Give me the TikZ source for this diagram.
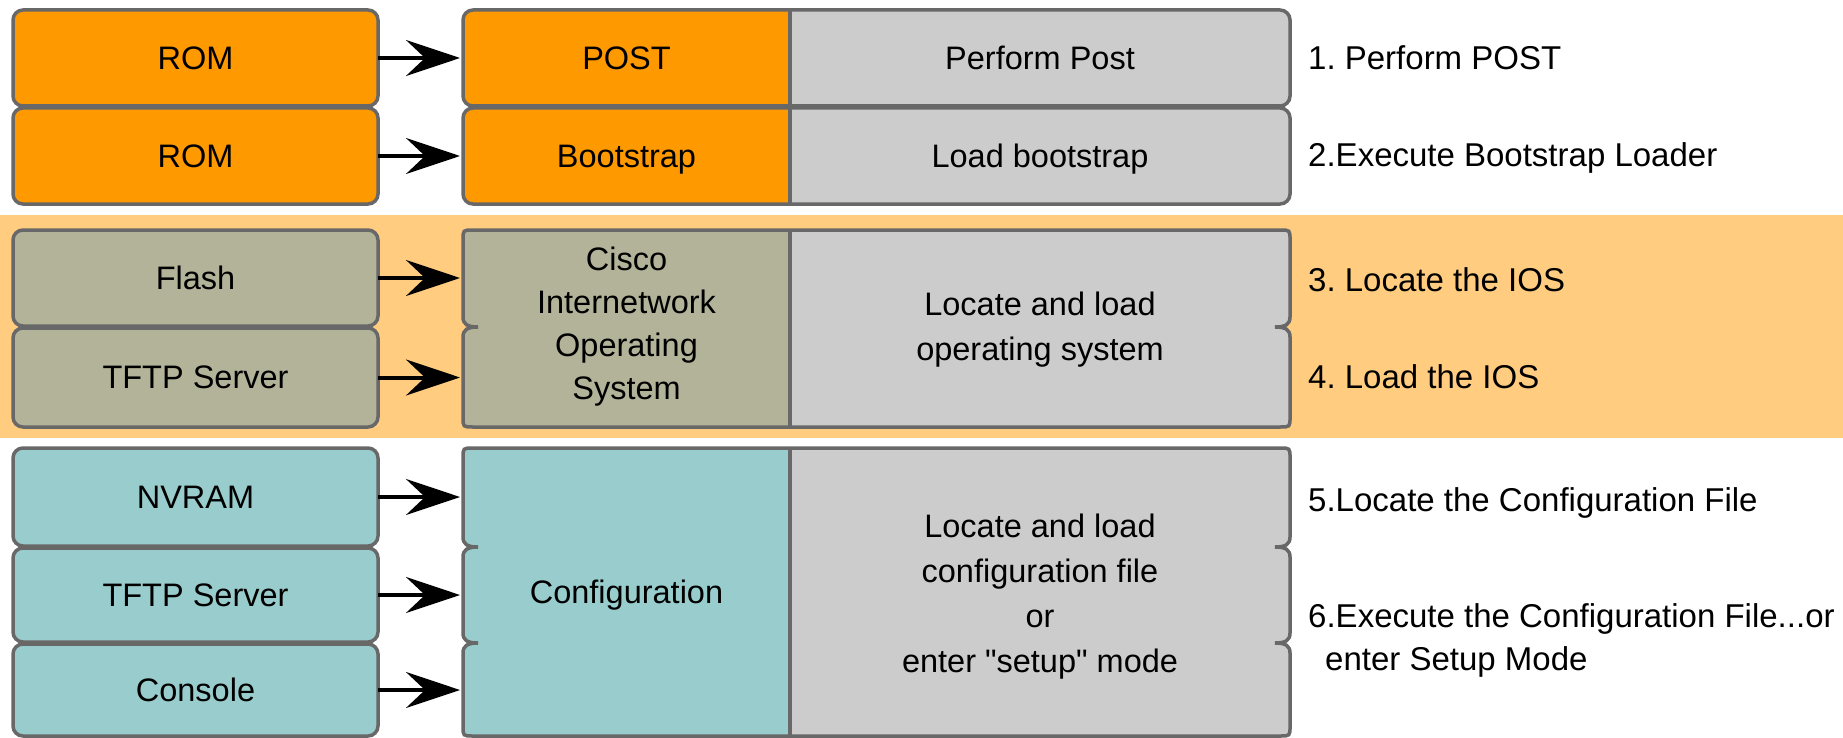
\documentclass[tikz,border=0pt]{standalone}
\usepackage{fontspec}
\setmainfont{Liberation Sans}
\newfontfamily\qfont{Liberation Sans}
\usetikzlibrary{arrows.meta}
\frenchspacing
\definecolor{bandc}{RGB}{255,204,128}
\definecolor{orangec}{RGB}{255,153,0}
\definecolor{grayc}{RGB}{204,204,204}
\definecolor{olivec}{RGB}{179,179,153}
\definecolor{tealc}{RGB}{153,204,204}
\definecolor{edgec}{RGB}{104,104,104}
\newcommand{\boxpath}[5]{\path[#1, rounded corners=10pt] (#2,#3) rectangle (#4,#5);}
\newcommand{\iospath}[1]{\path[#1] (473,230) -- (1280,230) .. controls (1290,230) .. (1290,240) -- (1290,317) .. controls (1290,324) and (1286,327) .. (1275,327) .. controls (1286,327) and (1290,330) .. (1290,337) -- (1290,417) .. controls (1290,427) .. (1280,427) -- (473,427) .. controls (463,427) .. (463,417) -- (463,337) .. controls (463,330) and (467,327) .. (478,327) .. controls (467,327) and (463,324) .. (463,317) -- (463,240) .. controls (463,230) .. (473,230) -- cycle;}
\newcommand{\cfgpath}[1]{\path[#1] (473,448) -- (1280,448) .. controls (1290,448) .. (1290,458) -- (1290,537) .. controls (1290,544) and (1286,547) .. (1275,547) .. controls (1286,547) and (1290,550) .. (1290,557) -- (1290,633) .. controls (1290,640) and (1286,643) .. (1275,643) .. controls (1286,643) and (1290,646) .. (1290,653) -- (1290,726) .. controls (1290,736) .. (1280,736) -- (473,736) .. controls (463,736) .. (463,726) -- (463,653) .. controls (463,646) and (467,643) .. (478,643) .. controls (467,643) and (463,640) .. (463,633) -- (463,557) .. controls (463,550) and (467,547) .. (478,547) .. controls (467,547) and (463,544) .. (463,537) -- (463,458) .. controls (463,448) .. (473,448) -- cycle;}
\begin{document}
\begin{tikzpicture}[x=1pt,y=-1pt,
  every node/.style={font=\fontsize{32.5}{44}\selectfont, text=black},
  src/.style={draw=edgec, line width=3.5pt, rounded corners=10pt, minimum width=365pt, inner sep=0pt, outer sep=0pt, text depth=0pt},
  part/.style={inner sep=0pt, outer sep=0pt, align=center, minimum width=327pt},
  one/.style={text depth=0pt},
  multi/.style={font=\fontsize{32.5}{#1}\selectfont},
  lbl/.style={anchor=base west, inner sep=0pt, font=\fontsize{33}{43}\selectfont},
  arr/.style={line width=4pt, shorten >=3pt, -{Stealth[length=54pt,width=36pt,inset=19pt]}},
  outline/.style={draw=edgec, line width=3.5pt}
]
\useasboundingbox (0,0) rectangle (1843,738);
\fill[white] (0,0) rectangle (1843,738);
% band
\fill[bandc] (0,215) rectangle (1843,438);

% middle boxes, rows 1 and 2
\begin{scope}
\boxpath{clip}{463}{10}{1290}{106}
\fill[grayc] (463,10) rectangle (1290,106);
\fill[orangec] (463,10) rectangle (790,106);
\end{scope}
\draw[outline] (790,10) -- (790,106);
\boxpath{outline}{463}{10}{1290}{106}

\begin{scope}
\boxpath{clip}{463}{108}{1290}{204}
\fill[grayc] (463,108) rectangle (1290,204);
\fill[orangec] (463,108) rectangle (790,204);
\end{scope}
\draw[outline] (790,108) -- (790,204);
\boxpath{outline}{463}{108}{1290}{204}

% IOS box
\begin{scope}
\iospath{clip}
\fill[grayc] (463,230) rectangle (1290,427);
\fill[olivec] (463,230) rectangle (790,427);
\end{scope}
\draw[outline] (790,230) -- (790,427);
\iospath{outline}

% configuration box
\begin{scope}
\cfgpath{clip}
\fill[grayc] (463,448) rectangle (1290,736);
\fill[tealc] (463,448) rectangle (790,736);
\end{scope}
\draw[outline] (790,448) -- (790,736);
\cfgpath{outline}

% source boxes
\node[src, fill=orangec, minimum height=96pt] (rom1) at (195.5,58) {ROM};
\node[src, fill=orangec, minimum height=96pt] (rom2) at (195.5,156) {ROM};
\node[src, fill=olivec, minimum height=96pt] (flash) at (195.5,278) {Flash};
\node[src, fill=olivec, minimum height=99pt] (tftpa) at (195.5,377.5) {TFTP Server};
\node[src, fill=tealc, minimum height=98pt] (nvram) at (195.5,497) {NVRAM};
\node[src, fill=tealc, minimum height=94pt] (tftpb) at (195.5,595) {TFTP Server};
\node[src, fill=tealc, minimum height=92pt] (console) at (195.5,690) {Console};

% middle texts
\node[part, one, minimum height=96pt] (post) at (626.5,58) {POST};
\node[part, one, minimum height=96pt] (boot) at (626.5,156) {Bootstrap};
\node[part, multi=43pt, minimum height=197pt] (ios) at (626.5,327) {Cisco\\Internetwork\\Operating\\System};
\node[part, one, minimum height=288pt] (config) at (626.5,592) {Configuration};

\node[part, one] (perf) at (1040,58) {Perform Post};
\node[part, one] (loadb) at (1040,156) {Load bootstrap};
\node[part, multi=45pt] (loados) at (1040,330) {Locate and load\\operating system};
\node[part, multi=45pt] (loadcfg) at (1040,597) {Locate and load\\configuration file\\or\\enter {\qfont"setup"} mode};

% arrows
\draw[arr] (rom1.east) -- (rom1.east -| post.west);
\draw[arr] (rom2.east) -- (rom2.east -| boot.west);
\draw[arr] (flash.east) -- (flash.east -| ios.west);
\draw[arr] (tftpa.east) -- (tftpa.east -| ios.west);
\draw[arr] (nvram.east) -- (nvram.east -| config.west);
\draw[arr] (tftpb.east) -- (tftpb.east -| config.west);
\draw[arr] (console.east) -- (console.east -| config.west);

% step labels
\node[lbl] (s1) at (1308,69.5) {1. Perform POST};
\node[lbl] (s2) at (1308,166.5) {2.Execute Bootstrap Loader};
\node[lbl] (s3) at (1308,291) {3. Locate the IOS};
\node[lbl] (s4) at (1308,388.5) {4. Load the IOS};
\node[lbl] (s5) at (1308,511.5) {5.Locate the Configuration File};
\node[lbl, anchor=north west, align=left] (s6) at (1308,603) {6.Execute the Configuration File...or\\\hspace*{17pt}enter Setup Mode};
\end{tikzpicture}
\end{document}
